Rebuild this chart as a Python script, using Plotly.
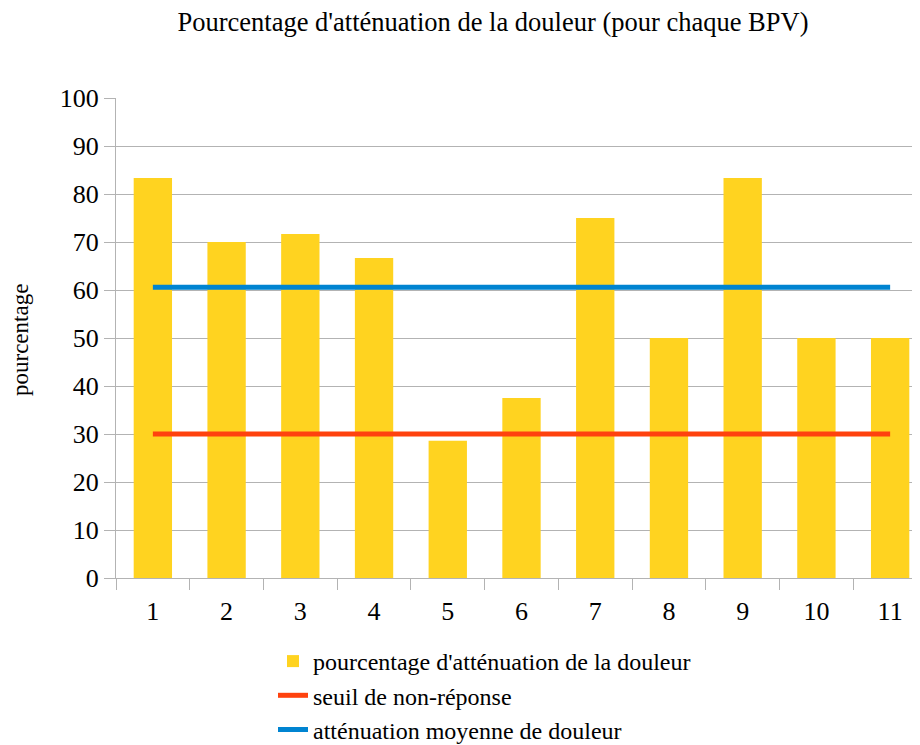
import plotly.graph_objects as go

categories = ["1", "2", "3", "4", "5", "6", "7", "8", "9", "10", "11"]
attenuation = [83.33, 70.0, 71.67, 66.67, 28.57, 37.5, 75.0, 50.0, 83.33, 50.0, 50.0]
seuil = [30] * 11
moyenne_val = sum(attenuation) / len(attenuation)
moyenne = [moyenne_val] * 11
y_ticks = [0, 10, 20, 30, 40, 50, 60, 70, 80, 90, 100]

FONT = "Liberation Serif, Times New Roman, serif"

fig = go.Figure()
fig.add_trace(go.Bar(
    x=categories, y=attenuation,
    name="pourcentage d'atténuation de la douleur",
    marker=dict(color="#FFD320", line=dict(width=0)),
    legendgroup="a",
))
fig.add_trace(go.Scatter(
    x=categories, y=seuil, mode="lines",
    name="seuil de non-réponse",
    line=dict(color="#FF420E", width=5),
    legendgroup="b",
))
fig.add_trace(go.Scatter(
    x=categories, y=moyenne, mode="lines",
    name="atténuation moyenne de douleur",
    line=dict(color="#0084D1", width=5),
    legendgroup="c",
))

fig.update_layout(
    width=920, height=745,
    margin=dict(l=108, r=1, t=90, b=175, autoexpand=False),
    paper_bgcolor="white", plot_bgcolor="white",
    font=dict(family=FONT, size=26, color="black"),
    title=dict(
        text="Pourcentage d'atténuation de la douleur (pour chaque BPV)",
        x=485 / 920, xref="container", xanchor="center",
        y=1 - 14 / 745, yref="container", yanchor="middle",
        font=dict(family=FONT, size=26.5, color="black"),
    ),
    bargap=0.48,
    showlegend=True,
    legend=dict(
        orientation="v",
        x=265 / 920, xref="container", xanchor="left",
        y=1 - 631 / 745, yref="container", yanchor="top",
        traceorder="grouped", tracegroupgap=0,
        font=dict(family=FONT, size=24, color="black"),
        bgcolor="rgba(0,0,0,0)",
    ),
    xaxis=dict(
        type="category",
        range=[-0.5, 10.5],
        tickson="boundaries",
        ticks="outside", ticklen=11, tickcolor="#b3b3b3", tickwidth=1,
        showline=True, linecolor="#b3b3b3", linewidth=1,
        showgrid=False, zeroline=False,
        tickangle=0,
        ticklabelstandoff=10,
        tickfont=dict(family=FONT, size=26, color="black"),
    ),
    yaxis=dict(
        range=[0, 100],
        tickvals=y_ticks,
        ticks="outside", ticklen=11, tickcolor="#b3b3b3", tickwidth=1,
        showline=True, linecolor="#b3b3b3", linewidth=1,
        showgrid=True, gridcolor="#b3b3b3", gridwidth=1,
        zeroline=False,
        ticklabelstandoff=0,
        tickfont=dict(family=FONT, size=26, color="black"),
    ),
    annotations=[dict(
        text="pourcentage", textangle=-90,
        xref="paper", yref="paper",
        x=(12 - 108) / 811, y=(570 - 332) / 480,
        xanchor="center", yanchor="middle",
        showarrow=False,
        font=dict(family=FONT, size=23, color="black"),
    )],
)

fig.write_html("out.html")
